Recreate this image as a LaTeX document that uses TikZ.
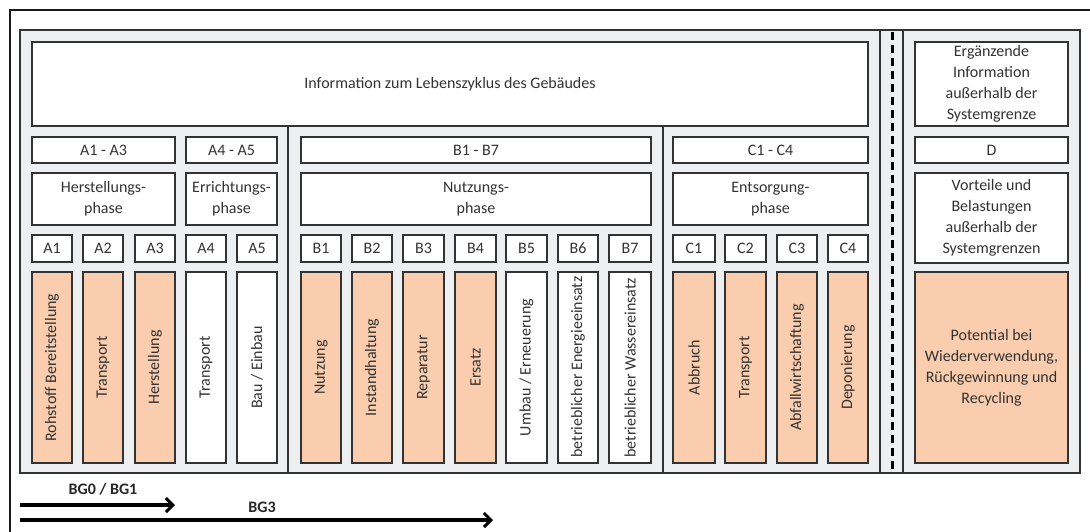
\documentclass[tikz,border=0pt]{standalone}
\usepackage{fontspec}
\setmainfont{Carlito}
\usetikzlibrary{arrows.meta}

\definecolor{panelgray}{HTML}{EEEFF1}
\definecolor{peach}{HTML}{F9CDAE}
\definecolor{edge}{HTML}{333333}
\definecolor{ink}{HTML}{333333}

% cell: style, name, x1, y1, x2, y2, text
\newcommand\cellbox[7]{%
  \pgfmathsetmacro\cbw{#5-#3}\pgfmathsetmacro\cbh{#6-#4}%
  \node[#1, minimum width=\cbw pt, minimum height=\cbh pt] (#2) at ({(#3+#5)/2},{(#4+#6)/2}) {#7};}

\begin{document}
\begin{tikzpicture}[x=1pt, y=-1pt,
  box/.style={draw=edge, line width=1.6pt, fill=white, inner sep=0pt, align=center,
              text=ink, font=\fontsize{16}{21}\selectfont},
  hot/.style={box, fill=peach},
  vtext/.style={rotate=90, inner sep=0pt, text=ink, font=\fontsize{16}{19}\selectfont},
  sep/.style={draw=edge, line width=1.5pt},
  bgarrow/.style={line width=3.4pt, -{Straight Barb[length=7pt, width=14pt, line width=3pt]}},
  bglabel/.style={font=\bfseries\fontsize{16}{19}\selectfont, text=black!85, inner sep=0pt}]

\useasboundingbox (0,0) rectangle (1090,531);

% outer frame, running off the right and bottom edges
\draw[line width=2.4pt, black!90] (1100,10) -- (10,10) -- (10,540);

% grey panel and its dividers
\fill[panelgray] (20,30) rectangle (1080,473);
\draw[sep] (20,30) rectangle (1080,473);

% header cells
\cellbox{box}{info}{32}{42}{868}{126}{Information zum Lebenszyklus des Gebäudes}
\cellbox{box}{erg}{915}{42}{1068}{126}{Ergänzende\\Information\\außerhalb der\\Systemgrenze}

\draw[sep] (288,126) -- (288,473);
\draw[sep] (663,126) -- (663,473);
\draw[sep] (880,30) -- (880,473);
\draw[sep] (903,30) -- (903,473);
\draw[line width=3pt, black, dash pattern=on 8pt off 5pt] (892,32) -- (892,473);

% module groups
\cellbox{box}{a13}{32}{137}{175}{163}{A1 - A3}
\cellbox{box}{a45}{186}{137}{277}{163}{A4 - A5}
\cellbox{box}{b17}{301}{137}{651}{163}{B1 - B7}
\cellbox{box}{c14}{673}{137}{868}{163}{C1 - C4}
\cellbox{box}{d}{915}{137}{1068}{163}{D}

% phases
\cellbox{box}{hp}{32}{173}{175}{225}{Herstellungs-\\phase}
\cellbox{box}{ep}{186}{173}{277}{225}{Errichtungs-\\phase}
\cellbox{box}{np}{301}{173}{651}{225}{Nutzungs-\\phase}
\cellbox{box}{entp}{673}{173}{868}{225}{Entsorgung-\\phase}
\cellbox{box}{vort}{915}{173}{1068}{263}{Vorteile und\\Belastungen\\außerhalb der\\Systemgrenzen}

% module codes
\cellbox{box}{A1}{32}{235}{72}{262}{A1}
\cellbox{box}{A2}{83}{235}{123}{262}{A2}
\cellbox{box}{A3}{135}{235}{175}{262}{A3}
\cellbox{box}{A4}{186}{235}{226}{262}{A4}
\cellbox{box}{A5}{237}{235}{277}{262}{A5}
\cellbox{box}{B1}{301}{235}{341}{262}{B1}
\cellbox{box}{B2}{352}{235}{392}{262}{B2}
\cellbox{box}{B3}{403}{235}{444}{262}{B3}
\cellbox{box}{B4}{455}{235}{496}{262}{B4}
\cellbox{box}{B5}{506}{235}{547}{262}{B5}
\cellbox{box}{B6}{558}{235}{598}{262}{B6}
\cellbox{box}{B7}{609}{235}{651}{262}{B7}
\cellbox{box}{C1}{673}{235}{715}{262}{C1}
\cellbox{box}{C2}{725}{235}{766}{262}{C2}
\cellbox{box}{C3}{777}{235}{817}{262}{C3}
\cellbox{box}{C4}{828}{235}{868}{262}{C4}

% module descriptions
\cellbox{hot}{a1}{32}{272}{72}{463}{}
\cellbox{hot}{a2}{83}{272}{123}{463}{}
\cellbox{hot}{a3}{135}{272}{175}{463}{}
\cellbox{box}{a4}{186}{272}{226}{463}{}
\cellbox{box}{a5}{237}{272}{277}{463}{}
\cellbox{hot}{b1}{301}{272}{341}{463}{}
\cellbox{hot}{b2}{352}{272}{392}{463}{}
\cellbox{hot}{b3}{403}{272}{444}{463}{}
\cellbox{hot}{b4}{455}{272}{496}{463}{}
\cellbox{box}{b5}{506}{272}{547}{463}{}
\cellbox{box}{b6}{558}{272}{598}{463}{}
\cellbox{box}{b7}{609}{272}{651}{463}{}
\cellbox{hot}{c1}{673}{272}{715}{463}{}
\cellbox{hot}{c2}{725}{272}{766}{463}{}
\cellbox{hot}{c3}{777}{272}{817}{463}{}
\cellbox{hot}{c4}{828}{272}{868}{463}{}
\cellbox{hot}{pot}{915}{272}{1068}{463}{Potential bei\\Wiederverwendung,\\Rückgewinnung und\\Recycling}

\node[vtext] (ta1) at (a1.center) {Rohstoff Bereitstellung};
\node[vtext] (ta2) at (a2.center) {Transport};
\node[vtext] (ta3) at (a3.center) {Herstellung};
\node[vtext] (ta4) at (a4.center) {Transport};
\node[vtext] (ta5) at (a5.center) {Bau / Einbau};
\node[vtext] (tb1) at (b1.center) {Nutzung};
\node[vtext] (tb2) at (b2.center) {Instandhaltung};
\node[vtext] (tb3) at (b3.center) {Reparatur};
\node[vtext] (tb4) at (b4.center) {Ersatz};
\node[vtext] (tb5) at (b5.center) {Umbau / Erneuerung};
% the two long labels run up to the inner edge of their frames
\begin{scope}
  \clip (559,273) rectangle (597,462);
  \node[vtext, anchor=west] (tb6) at ([yshift=6pt]b6.south) {betrieblicher Energieeinsatz};
\end{scope}
\begin{scope}
  \clip (610,273) rectangle (650,462);
  \node[vtext, anchor=west] (tb7) at ([yshift=6pt]b7.south) {betrieblicher Wassereinsatz};
\end{scope}
\node[vtext] (tc1) at (c1.center) {Abbruch};
\node[vtext] (tc2) at (c2.center) {Transport};
\node[vtext] (tc3) at (c3.center) {Abfallwirtschaftung};
\node[vtext] (tc4) at (c4.center) {Deponierung};

% scope arrows
\coordinate (bg1s) at (20,505);
\coordinate (bg1e) at (175,505);
\coordinate (bg3s) at (20,520);
\coordinate (bg3e) at (493,520);
\draw[bgarrow] (bg1s) -- (bg1e);
\draw[bgarrow] (bg3s) -- (bg3e);
\node[bglabel] (lbg1) at (103,489) {BG0 / BG1};
\node[bglabel] (lbg3) at (262,507) {BG3};

\end{tikzpicture}
\end{document}
